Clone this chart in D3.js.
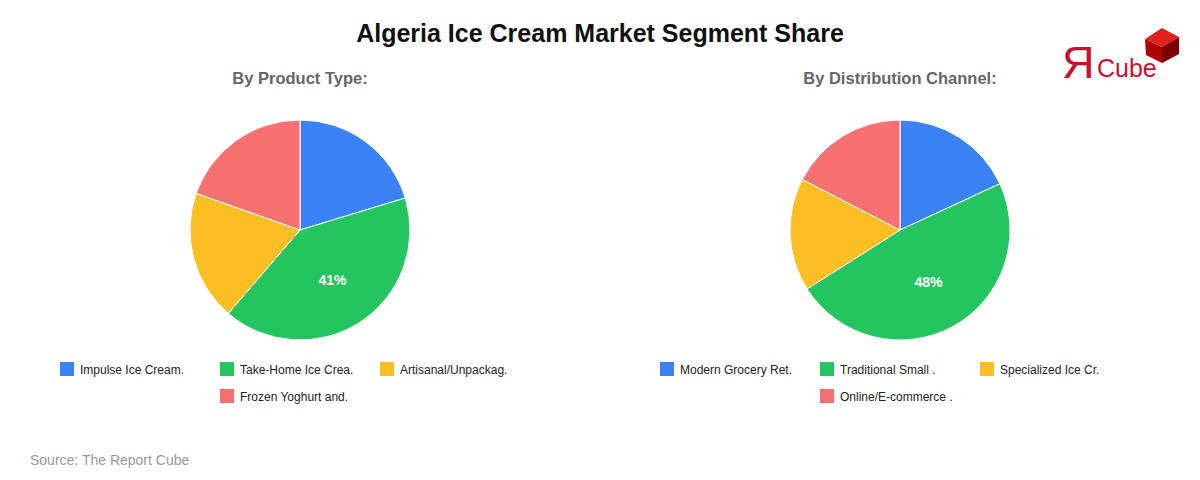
<!DOCTYPE html>
<html><head><meta charset="utf-8">
<script src="https://cdn.jsdelivr.net/npm/d3@7"></script>
<style>
html,body{margin:0;padding:0;background:#fff;}
svg{display:block;font-family:"Liberation Sans",Arial,sans-serif;}
</style></head>
<body>
<svg id="chart" width="1200" height="480"></svg>
<script>
const title = "Algeria Ice Cream Market Segment Share";
const source = "Source: The Report Cube";
const colors = ["#3b82f6", "#22c55e", "#fbbf24", "#f87171"];

const productTitle = "By Product Type:";
const productLabels = ["Impulse Ice Cream.", "Take-Home Ice Crea.", "Artisanal/Unpackag.", "Frozen Yoghurt and."];
const productValues = [20.3, 41.0, 19.1, 19.6];

const channelTitle = "By Distribution Channel:";
const channelLabels = ["Modern Grocery Ret.", "Traditional Small .", "Specialized Ice Cr.", "Online/E-commerce ."];
const channelValues = [18.1, 47.9, 16.6, 17.4];

const svg = d3.select("#chart");

svg.append("text").attr("x", 600).attr("y", 42).attr("text-anchor", "middle")
  .attr("font-size", 25).attr("font-weight", "bold").attr("fill", "#111").text(title);

svg.append("text").attr("x", 30).attr("y", 465).attr("font-size", 14).attr("fill", "#999").text(source);

// Logo
const logo = svg.append("g");
logo.append("text").attr("x", 1062).attr("y", 78).attr("font-size", 45).attr("fill", "#c8102e")
  .text("Я");
logo.append("text").attr("x", 1097).attr("y", 77).attr("font-size", 25).attr("fill", "#c8102e").text("Cube");
// cube
logo.append("polygon").attr("points", "1145,39 1162,28 1179,37 1162,47").attr("fill", "#e02020");
logo.append("polygon").attr("points", "1145,39 1162,47 1162,63 1146,55").attr("fill", "#b00000");
logo.append("polygon").attr("points", "1162,47 1179,37 1179,54 1162,63").attr("fill", "#7a0000");

function drawPie(cx, subtitle, labels, values) {
  const r = 110, cy = 230;
  svg.append("text").attr("x", cx).attr("y", 84).attr("text-anchor", "middle")
    .attr("font-size", 16.5).attr("font-weight", "bold").attr("fill", "#666").text(subtitle);
  const color = d3.scaleOrdinal().domain(labels).range(colors);
  const data = labels.map((l, i) => ({label: l, value: values[i]}));
  const pie = d3.pie().value(d => d.value).sort(null);
  const arcs = pie(data);
  const arc = d3.arc().innerRadius(0).outerRadius(r);
  const g = svg.append("g").attr("transform", `translate(${cx},${cy})`);
  g.selectAll("path").data(arcs).join("path")
    .attr("d", arc).attr("fill", d => color(d.data.label))
    .attr("stroke", "#fff").attr("stroke-width", 1);
  const total = d3.sum(values);
  const labelArc = d3.arc().innerRadius(r * 0.54).outerRadius(r * 0.54);
  g.selectAll("text").data(arcs.filter(d => d.data.value / total > 0.3)).join("text")
    .attr("transform", d => `translate(${labelArc.centroid(d)})`)
    .attr("text-anchor", "middle").attr("dy", "0.35em")
    .attr("font-size", 14).attr("font-weight", "bold").attr("fill", "#fff")
    .text(d => Math.round(d.data.value / total * 100) + "%");

  // legend
  const lx = cx - 240;
  const pos = [[0, 0], [160, 0], [320, 0], [160, 27]];
  const lg = svg.append("g");
  labels.forEach((l, i) => {
    const [dx, dy] = pos[i];
    lg.append("rect").attr("x", lx + dx).attr("y", 362 + dy).attr("width", 14).attr("height", 14)
      .attr("fill", color(l));
    lg.append("text").attr("x", lx + dx + 20).attr("y", 374 + dy).attr("font-size", 12)
      .attr("fill", "#222").text(l);
  });
}

drawPie(300, productTitle, productLabels, productValues);
drawPie(900, channelTitle, channelLabels, channelValues);
</script>
</body></html>
